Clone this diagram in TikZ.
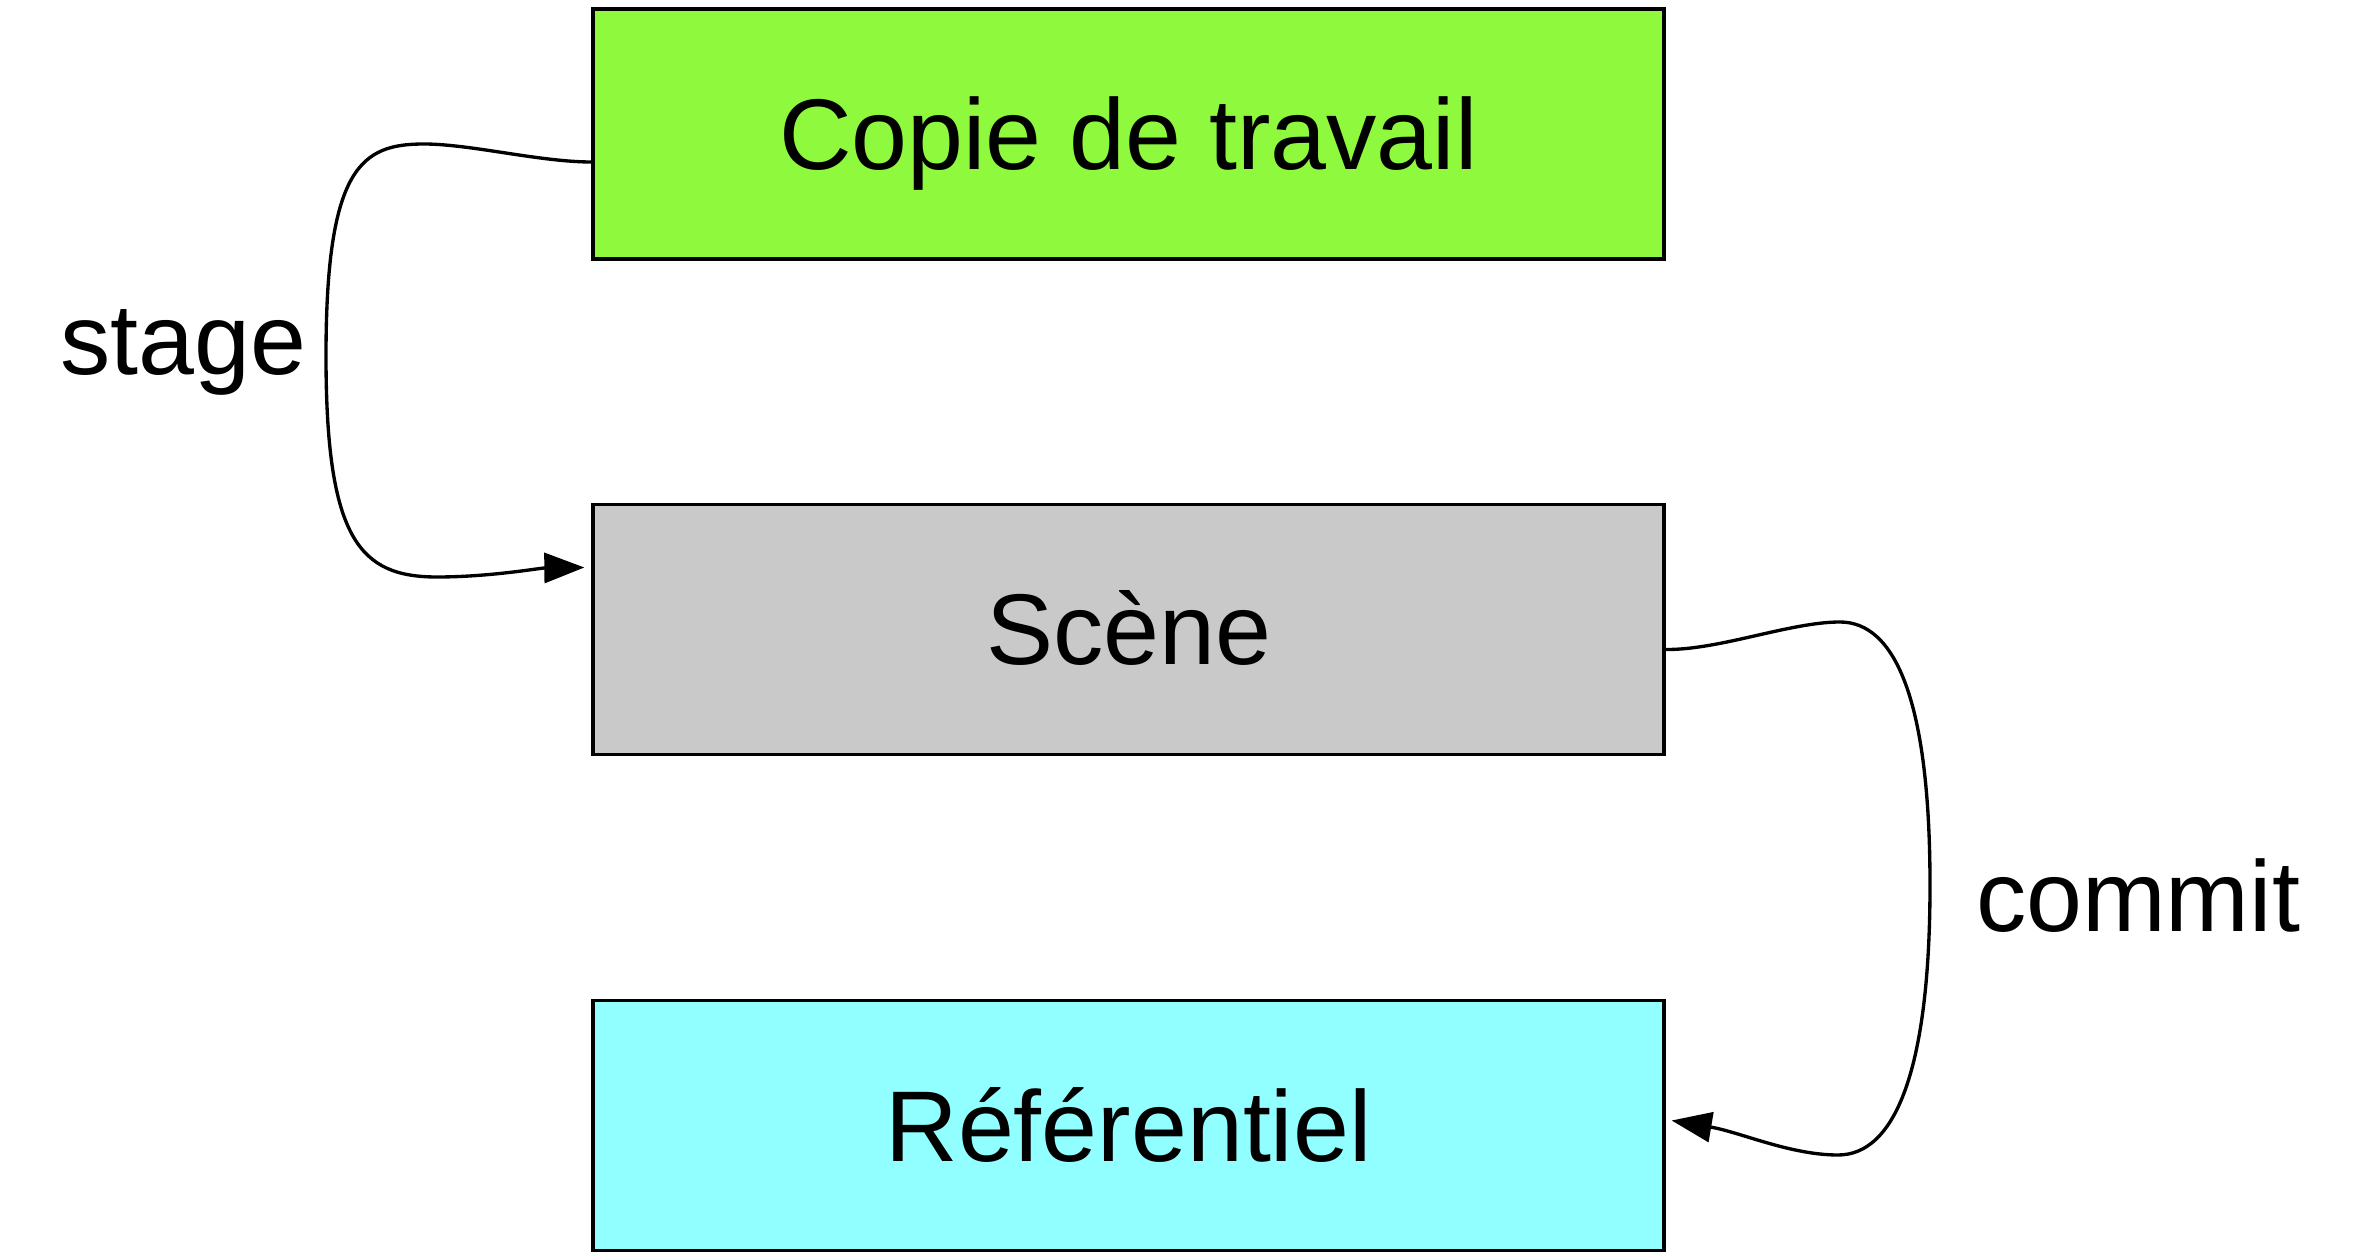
\documentclass[tikz,border=0pt]{standalone}
\usepackage{fontspec}
\setmainfont{Liberation Sans}
\usetikzlibrary{arrows.meta}
\definecolor{vertcopie}{RGB}{143,249,62}
\definecolor{grisscene}{RGB}{201,201,201}
\definecolor{cyanref}{RGB}{145,254,255}
\begin{document}
\begin{tikzpicture}[x=0.1mm, y=0.1mm]
            \tikzstyle{every node}+=[inner sep=0pt, font=\fontsize{28.6}{34}\selectfont]
            \tikzstyle{boite}=[draw=black, line width=0.95pt, minimum width=10.71cm, minimum height=2.5cm, text height=0.71cm, text depth=0pt]
            \tikzstyle{fleche}=[black, line width=0.95pt, -{Triangle[length=0.4cm, width=0.3cm]}]
            \useasboundingbox (0,0) rectangle (2379,-1258);
            \node [boite, fill=vertcopie] (copie) at (1128.5,-134) {Copie de travail};
            \node [boite, fill=grisscene] (scene) at (1128.5,-629.5) {Scène};
            \node [boite, fill=cyanref] (referentiel) at (1128.5,-1125.5) {Référentiel};
            \node [anchor=base] (stage) at (183,-375) {stage};
            \node [anchor=base] (commit) at (2138,-931) {commit};
            % stage
            \draw [fleche] ([yshift=-0.28cm]copie.west) .. controls (540,-162) and (470,-144) .. (424,-144)
                .. controls (362,-144) and (326,-166) .. (326,-356)
                .. controls (326,-540) and (360,-577) .. (437,-577)
                .. controls (490,-577) and (540,-568) .. ([xshift=-0.07cm, yshift=0.62cm]scene.west);
            % commit
            \draw [fleche] ([yshift=-0.2cm]scene.east) .. controls (1720,-650) and (1790,-622) .. (1840,-622)
                .. controls (1895,-622) and (1930,-700) .. (1930,-885)
                .. controls (1930,-1070) and (1895,-1155) .. (1838,-1155)
                .. controls (1790,-1155) and (1740,-1132) .. ([xshift=0.06cm, yshift=0.05cm]referentiel.east);
        \end{tikzpicture}
\end{document}
